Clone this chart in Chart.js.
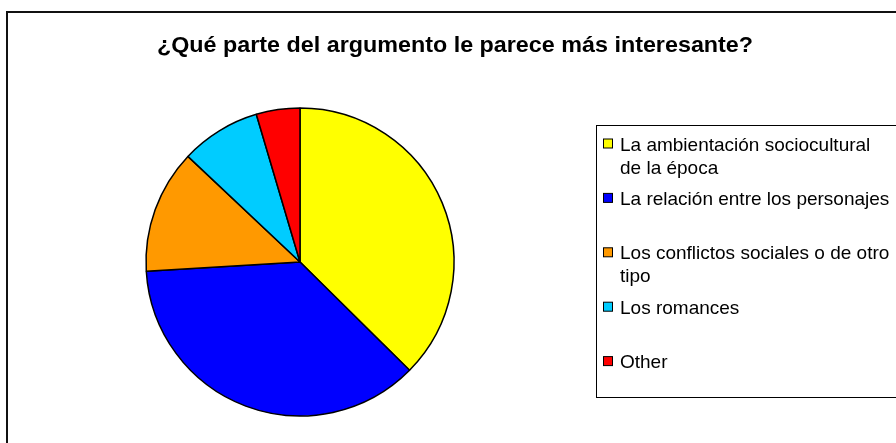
<!DOCTYPE html>
<html>
<head>
<meta charset="utf-8">
<script src="https://cdn.jsdelivr.net/npm/chart.js@4/dist/chart.umd.min.js"></script>
<style>
body { margin: 0; background: #fff; overflow: hidden; }
#wrap { position: absolute; left: 0; top: 0; width: 896px; height: 443px; }
</style>
</head>
<body>
<div id="wrap"><canvas id="myChart" width="896" height="443"></canvas></div>
<script>
var titleText = '¿Qué parte del argumento le parece más interesante?';
var labels = [
	['La ambientación sociocultural', 'de la época'],
	['La relación entre los personajes'],
	['Los conflictos sociales o de otro', 'tipo'],
	['Los romances'],
	['Other']
];
var values = [49, 48, 17, 11, 6];
var colorHex = ['#FFFF00', '#0000FF', '#FF9900', '#00CCFF', '#FF0000'];

// frame, title and boxed legend like the spreadsheet original
var framePlugin = {
	id: 'frame',
	beforeDraw: function(chart) {
		var c = chart.ctx;
		c.save();
		c.fillStyle = '#fff';
		c.fillRect(0, 0, chart.width, chart.height);
		c.strokeStyle = '#111';
		c.lineWidth = 2;
		c.beginPath();
		c.moveTo(7, chart.height + 5);
		c.lineTo(7, 12);
		c.lineTo(chart.width + 5, 12);
		c.stroke();

		c.fillStyle = '#000';
		c.font = 'bold 22px "Liberation Sans", Arial, sans-serif';
		c.textAlign = 'center';
		c.textBaseline = 'alphabetic';
		c.translate(455, 52);
		c.scale(1.06, 1);
		c.fillText(titleText, 0, 0);
		c.restore();
	},
	afterDraw: function(chart) {
		var c = chart.ctx;
		var ds = chart.data.datasets[0];
		c.save();
		c.strokeStyle = '#000';
		c.lineWidth = 1;
		c.strokeRect(596.5, 125.5, 400, 272);
		c.font = '19px "Liberation Sans", Arial, sans-serif';
		c.textAlign = 'left';
		c.textBaseline = 'alphabetic';
		for (var i = 0; i < chart.data.labels.length; i++) {
			var y = 143.5 + i * 54.4;
			c.fillStyle = ds.backgroundColor[i];
			c.fillRect(603.5, y - 4.5, 9, 9);
			c.strokeRect(603.5, y - 4.5, 9, 9);
			c.fillStyle = '#000';
			var lines = chart.data.labels[i];
			for (var j = 0; j < lines.length; j++) {
				c.fillText(lines[j], 620, y + 7 + j * 23);
			}
		}
		c.restore();
	}
};

var ctx = document.getElementById('myChart').getContext('2d');
var myChart = new Chart(ctx, {
	type: 'pie',
	data: {
		labels: labels,
		datasets: [{
			data: values,
			backgroundColor: colorHex,
			borderColor: '#000',
			borderWidth: 1.5,
			radius: 154
		}]
	},
	options: {
		responsive: false,
		animation: false,
		layout: { padding: { left: 140, right: 436, top: 102, bottom: 21 } },
		plugins: {
			legend: { display: false },
			title: { display: false },
			tooltip: { enabled: false }
		}
	},
	plugins: [framePlugin]
});
</script>
</body>
</html>
